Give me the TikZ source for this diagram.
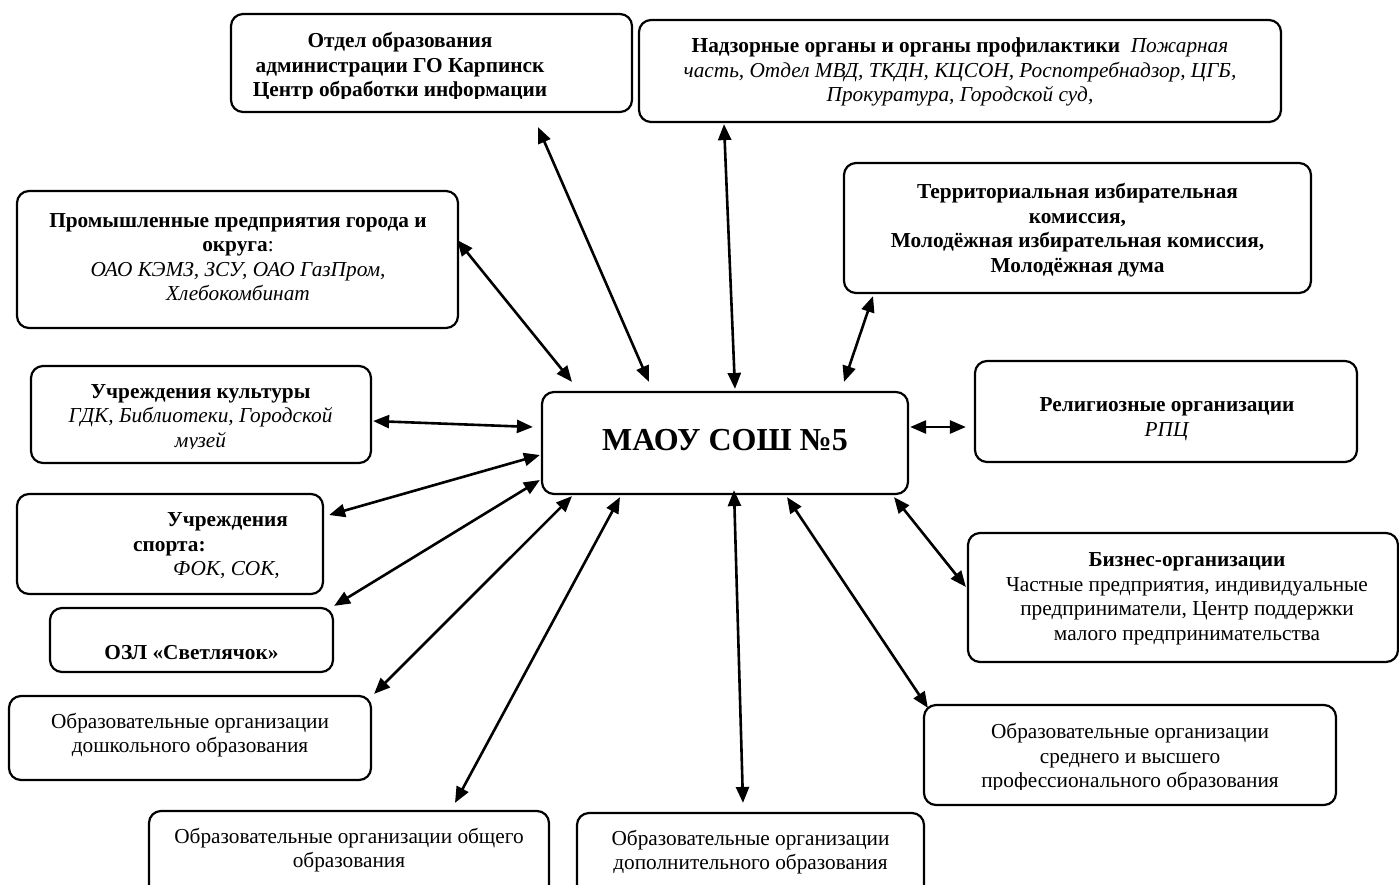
\documentclass[tikz,border=0pt]{standalone}
\usepackage{fontspec}
\setmainfont{Liberation Serif}
\usetikzlibrary{arrows.meta,fit}

\begin{document}
\begin{tikzpicture}[
		x=1pt, y=-1pt,
		box/.style={draw, rounded corners=12pt, line width=2.2pt, inner sep=0pt},
		txt/.style={align=center, inner sep=0pt, font=\fontsize{21.3}{24.5}\selectfont},
		link/.style={arrows={Triangle[length=16pt, width=13pt]-Triangle[length=16pt, width=13pt]}, line width=2.6pt}
	]
  \useasboundingbox (0,0) rectangle (1399,884);
  % boxes
  \node (school) [box, fit={(542,392) (908,494)}] {};
  \node (otdel) [box, fit={(231,14) (632,112)}] {};
  \node (nadzor) [box, fit={(639,20) (1281,122)}] {};
  \node (izbir) [box, fit={(844,163) (1311,293)}] {};
  \node (prom) [box, fit={(17,191) (458,328)}] {};
  \node (kult) [box, fit={(31,366) (371,463)}] {};
  \node (relig) [box, fit={(975,361) (1357,462)}] {};
  \node (sport) [box, fit={(17,494) (323,594)}] {};
  \node (ozl) [box, fit={(50,608) (333,672)}] {};
  \node (biz) [box, fit={(968,533) (1398,662)}] {};
  \node (dosh) [box, fit={(9,696) (371,780)}] {};
  \node (proff) [box, fit={(924,705) (1336,805)}] {};
  \node (obsh) [box, fit={(149,811) (549,920)}] {};
  \node (dop) [box, fit={(577,813) (924,920)}] {};
  % texts
  \node (school_label) [txt, font=\fontsize{32}{36}\selectfont\bfseries] at (725,440) {МАОУ СОШ №5};
  \begin{scope}
    \clip (231,14) rectangle (632,98);
    \node (otdel_label) [txt, font=\fontsize{21.3}{24.5}\selectfont\bfseries] at (400,67)
      {Отдел образования\\ администрации ГО Карпинск\\ Центр обработки информации};
  \end{scope}
  \node (nadzor_label) [txt] at (960,72)
    {\textbf{Надзорные органы и органы профилактики}\ \ \textit{Пожарная}\\
     \textit{часть, Отдел МВД, ТКДН, КЦСОН, Роспотребнадзор, ЦГБ,}\\
     \textit{Прокуратура, Городской суд,}};
  \node (izbir_label) [txt, font=\fontsize{21.3}{24.5}\selectfont\bfseries] at (1077.5,230)
    {Территориальная избирательная\\ комиссия,\\ Молодёжная избирательная комиссия,\\ Молодёжная дума};
  \node (prom_label) [txt] at (238,257)
    {\textbf{Промышленные предприятия города и}\\ \textbf{округа}:\\
     \textit{ОАО КЭМЗ, ЗСУ, ОАО ГазПром,}\\ \textit{Хлебокомбинат}};
  \begin{scope}
    \clip (31,366) rectangle (371,448);
    \node (kult_label) [txt] at (200.5,418)
      {\textbf{Учреждения культуры}\\ \textit{ГДК, Библиотеки, Городской}\\ \textit{музей}};
  \end{scope}
  \node (relig_label) [txt] at (1167,419) {\textbf{Религиозные организации}\\ \textit{РПЦ}};
  \node (sport_label) [txt, align=left, anchor=west] at (133,546)
    {\hspace*{34pt}\textbf{Учреждения}\\ \textbf{спорта:}\\ \hspace*{40pt}\textit{ФОК, СОК,}};
  \node (ozl_label) [txt, font=\fontsize{21.3}{24.5}\selectfont\bfseries] at (191.5,653) {ОЗЛ «Светлячок»};
  \node (biz_label) [txt] at (1187,599)
    {\textbf{Бизнес-организации}\\ Частные предприятия, индивидуальные\\
     предприниматели, Центр поддержки\\ малого предпринимательства};
  \node (dosh_label) [txt] at (190,735) {Образовательные организации\\ дошкольного образования};
  \begin{scope}
    \clip (924,705) rectangle (1336,789);
    \node (proff_label) [txt] at (1130,758)
      {Образовательные организации\\ среднего и высшего\\ профессионального образования};
  \end{scope}
  \node (obsh_label) [txt] at (349,850) {Образовательные организации общего\\ образования};
  \node (dop_label) [txt] at (750.5,852) {Образовательные организации\\ дополнительного образования};
  % links
  \draw [link] ([xshift=106.5pt, yshift=-14pt]otdel.south) -- ([xshift=-76pt, yshift=9pt]school.north);
  \draw [link] ([xshift=-236pt, yshift=-1pt]nadzor.south) -- ([xshift=10pt, yshift=2pt]school.north);
  \draw [link] ([xshift=-204.5pt, yshift=-2pt]izbir.south) -- ([xshift=119pt, yshift=9pt]school.north);
  \draw [link] ([xshift=-2pt, yshift=19.5pt]prom.east) -- ([xshift=-153pt, yshift=9pt]school.north);
  \draw [link] ([xshift=1pt, yshift=-6.5pt]kult.east) -- ([xshift=-8pt, yshift=16pt]school.west);
  \draw [link] ([xshift=1pt, yshift=16pt]school.east) -- ([xshift=-8pt, yshift=-15.5pt]relig.west);
  \draw [link] ([xshift=5pt, yshift=29pt]sport.east) -- ([xshift=-1pt, yshift=-12pt]school.west);
  \draw [link] ([xshift=0pt, yshift=1pt]ozl.north east) -- ([xshift=-1pt, yshift=-37pt]school.west);
  \draw [link] ([xshift=2pt, yshift=1pt]dosh.north east) -- ([xshift=-153pt, yshift=-1pt]school.south);
  \draw [link] ([xshift=106pt, yshift=7pt]obsh.north) -- ([xshift=-105pt, yshift=-2pt]school.south);
  \draw [link] ([xshift=-7.5pt, yshift=9pt]dop.north) -- ([xshift=9pt, yshift=5pt]school.south);
  \draw [link] ([xshift=5pt, yshift=-4pt]proff.north west) -- ([xshift=62pt, yshift=-2pt]school.south);
  \draw [link] ([xshift=-1pt, yshift=10.5pt]biz.west) -- ([xshift=169pt, yshift=-2pt]school.south);
\end{tikzpicture}
\end{document}
